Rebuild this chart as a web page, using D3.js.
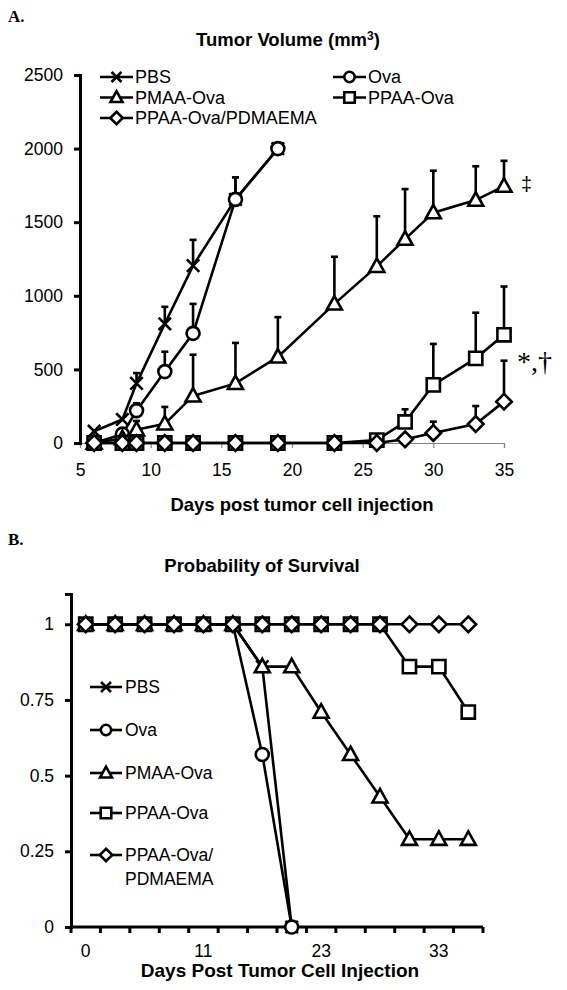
<!DOCTYPE html>
<html><head><meta charset="utf-8">
<script src="https://cdn.jsdelivr.net/npm/d3@7/dist/d3.min.js"></script>
<style>
body{margin:0;background:#fff;}
svg{display:block;font-family:"Liberation Sans",Arial,Helvetica,sans-serif;}
</style></head>
<body><svg id="c" width="567" height="990"></svg>
<script>
// ---------- Panel A data: tumor volume ----------
const days1 = [6, 8, 9, 11, 13, 16, 19, 23, 26, 28, 30, 33, 35];
const volTicksY = [0, 500, 1000, 1500, 2000, 2500];
const volTicksX = [5, 10, 15, 20, 25, 30, 35];
const seriesNames = ["PBS", "Ova", "PMAA-Ova", "PPAA-Ova", "PPAA-Ova/PDMAEMA"];
const seriesShapes = ["x", "circle", "triangle", "square", "diamond"];
const pbsVol  = [80, 160, 405, 810, 1205, 1655, 2000, null, null, null, null, null, null];
const pbsErr  = [0, 0, 70, 115, 175, 150, 0, null, null, null, null, null, null];
const ovaVol  = [0, 60, 220, 485, 745, 1655, 2000, null, null, null, null, null, null];
const ovaErr  = [0, 0, 50, 135, 200, 150, 0, null, null, null, null, null, null];
const pmaaVol = [0, 30, 90, 130, 320, 405, 585, 945, 1200, 1385, 1565, 1650, 1745];
const pmaaErr = [0, 0, 60, 115, 280, 275, 270, 320, 340, 340, 285, 230, 172];
const ppaaVol = [0, 0, 0, 0, 0, 0, 0, 0, 20, 143, 395, 575, 735];
const ppaaErr = [0, 0, 0, 0, 0, 0, 0, 0, 0, 86, 278, 310, 328];
const pdmVol  = [0, 0, 0, 0, 0, 0, 0, 0, 0, 25, 68, 129, 281];
const pdmErr  = [0, 0, 0, 0, 0, 0, 0, 0, 0, 0, 77, 122, 278];

// ---------- Panel B data: survival ----------
const days2 = [0, 6, 8, 9, 11, 13, 16, 19, 23, 26, 28, 30, 33, 35];
const days2Labels = [0, 11, 23, 33];
const survTicksY = [0, 0.25, 0.5, 0.75, 1];
const pbsSurv  = [1, 1, 1, 1, 1, 1, 0.86, 0, null, null, null, null, null, null];
const ovaSurv  = [1, 1, 1, 1, 1, 1, 0.57, 0, null, null, null, null, null, null];
const pmaaSurv = [1, 1, 1, 1, 1, 1, 0.86, 0.86, 0.71, 0.57, 0.43, 0.29, 0.29, 0.29];
const ppaaSurv = [1, 1, 1, 1, 1, 1, 1, 1, 1, 1, 1, 0.86, 0.86, 0.71];
const pdmSurv  = [1, 1, 1, 1, 1, 1, 1, 1, 1, 1, 1, 1, 1, 1];

const svg = d3.select("#c");
const SW = 2.6;

function shapePath(shape, s) {
  s = s || 1;
  switch (shape) {
    case "x": { const a = 6.2 * s; return `M${-a},${-a}L${a},${a}M${-a},${a}L${a},${-a}`; }
    case "circle": { const r = 6.5 * s; return `M${r},0A${r},${r} 0 1,1 ${-r},0A${r},${r} 0 1,1 ${r},0Z`; }
    case "triangle": { const h = 7.5 * s; return `M0,${-h * 1.05}L${h},${h * 0.75}L${-h},${h * 0.75}Z`; }
    case "square": { const a = 6.6 * s; return `M${-a},${-a}H${a}V${a}H${-a}Z`; }
    case "diamond": { const a = 7.8 * s; return `M0,${-a}L${a},0L0,${a}L${-a},0Z`; }
  }
}
function drawMarker(g, shape, x, y, s) {
  g.append("path").attr("d", shapePath(shape, s))
    .attr("transform", `translate(${x},${y})`)
    .attr("fill", shape === "x" ? "none" : "#fff")
    .attr("stroke", "#000").attr("stroke-width", SW);
}

// ---------- Panel A ----------
svg.append("text").attr("x", 8).attr("y", 22).text("A.")
  .attr("font-family", "'Liberation Serif','Times New Roman',serif").attr("font-weight", "bold").attr("font-size", 17);
const titleA = svg.append("text").attr("x", 288).attr("y", 46).attr("text-anchor", "middle")
  .attr("font-weight", "bold").attr("font-size", 18.5);
titleA.append("tspan").text("Tumor Volume (mm");
titleA.append("tspan").text("3").attr("font-size", 12).attr("dy", -6);
titleA.append("tspan").text(")").attr("dy", 6);

const x1 = d3.scaleLinear().domain([5, 35]).range([80, 504]);
const y1 = d3.scaleLinear().domain([0, 2500]).range([443, 75]);

// x axis (thin gray)
const gxa = svg.append("g").attr("transform", "translate(0,443)")
  .call(d3.axisBottom(x1).tickValues(volTicksX).tickFormat(d3.format("d")).tickSizeOuter(0).tickSize(5).tickPadding(16));
gxa.select(".domain").attr("stroke", "#888").attr("stroke-width", 1.2);
gxa.selectAll(".tick line").attr("stroke", "#888").attr("stroke-width", 1.2);
gxa.selectAll(".tick text").attr("font-size", 17.5).attr("fill", "#000").attr("font-family", "'Liberation Sans',Arial,sans-serif");
// y axis (thick)
const gya = svg.append("g").attr("transform", "translate(80,0)")
  .call(d3.axisLeft(y1).tickValues(volTicksY).tickFormat(d3.format("d")).tickSizeOuter(0).tickSize(6).tickPadding(11));
gya.select(".domain").attr("stroke", "#000").attr("stroke-width", 3);
gya.selectAll(".tick line").attr("stroke", "#000").attr("stroke-width", 3);
gya.selectAll(".tick text").attr("font-size", 17.5).attr("fill", "#000").attr("font-family", "'Liberation Sans',Arial,sans-serif");

svg.append("text").attr("x", 302).attr("y", 511).attr("text-anchor", "middle")
  .attr("font-weight", "bold").attr("font-size", 18.5).text("Days post tumor cell injection");

const volSeries = [
  {v: pbsVol, e: pbsErr}, {v: ovaVol, e: ovaErr}, {v: pmaaVol, e: pmaaErr},
  {v: ppaaVol, e: ppaaErr}, {v: pdmVol, e: pdmErr}
];
const lineA = d3.line().defined(d => d.v != null).x(d => x1(d.d)).y(d => y1(d.v));
const gA = svg.append("g");
volSeries.forEach((s, i) => {
  const pts = days1.map((d, j) => ({d, v: s.v[j], e: s.e[j]}));
  const g = gA.append("g");
  // error bars (upward only)
  pts.filter(p => p.v != null && p.e > 0).forEach(p => {
    const x = x1(p.d), yt = y1(p.v + p.e);
    g.append("line").attr("x1", x).attr("x2", x).attr("y1", y1(p.v)).attr("y2", yt)
      .attr("stroke", "#000").attr("stroke-width", SW);
    g.append("line").attr("x1", x - 3.5).attr("x2", x + 3.5).attr("y1", yt).attr("y2", yt)
      .attr("stroke", "#000").attr("stroke-width", SW);
  });
  g.append("path").datum(pts).attr("d", lineA).attr("fill", "none")
    .attr("stroke", "#000").attr("stroke-width", SW);
  pts.filter(p => p.v != null).forEach(p => drawMarker(g, seriesShapes[i], x1(p.d), y1(p.v)));
});

// significance marks
svg.append("text").attr("x", 521).attr("y", 191).attr("font-size", 20).text("‡");
svg.append("text").attr("x", 517).attr("y", 371).attr("font-size", 28)
  .attr("font-family", "'Liberation Serif','Times New Roman',serif").text("*,†");

// legend A
const legA = [
  {i: 0, x: 100, y: 77}, {i: 2, x: 100, y: 97.5}, {i: 4, x: 100, y: 118},
  {i: 1, x: 333, y: 77}, {i: 3, x: 333, y: 97.5}
];
legA.forEach(l => {
  const g = svg.append("g");
  g.append("line").attr("x1", l.x).attr("x2", l.x + 33).attr("y1", l.y).attr("y2", l.y)
    .attr("stroke", "#000").attr("stroke-width", SW);
  drawMarker(g, seriesShapes[l.i], l.x + 16.5, l.y, 0.8);
  g.append("text").attr("x", l.x + 35).attr("y", l.y + 6.3).attr("font-size", 18).text(seriesNames[l.i]);
});

// ---------- Panel B ----------
svg.append("text").attr("x", 8).attr("y", 545).text("B.")
  .attr("font-family", "'Liberation Serif','Times New Roman',serif").attr("font-weight", "bold").attr("font-size", 17);
svg.append("text").attr("x", 262).attr("y", 572).attr("text-anchor", "middle")
  .attr("font-weight", "bold").attr("font-size", 18.5).text("Probability of Survival");

const x2 = d3.scaleBand().domain(days2).range([71, 483]);
const cx2 = d => x2(d) + x2.bandwidth() / 2;
const y2 = d3.scaleLinear().domain([0, 1.1]).range([927, 594]);

const gyb = svg.append("g").attr("transform", "translate(71,0)")
  .call(d3.axisLeft(y2).tickValues(survTicksY).tickSizeOuter(0).tickSize(6).tickPadding(11)
    .tickFormat(d => String(d)));
gyb.select(".domain").attr("stroke", "#000").attr("stroke-width", 3);
gyb.selectAll(".tick line").attr("stroke", "#000").attr("stroke-width", 3);
gyb.selectAll(".tick text").attr("font-size", 17.5).attr("fill", "#000").attr("font-family", "'Liberation Sans',Arial,sans-serif");

// x axis B: category axis with ticks between categories
const gxb = svg.append("g");
gxb.append("line").attr("x1", 71).attr("x2", 483).attr("y1", 927).attr("y2", 927)
  .attr("stroke", "#000").attr("stroke-width", 3);
const bounds = days2.map(d => x2(d)).concat([x2.range()[1]]);
bounds.forEach(b => gxb.append("line").attr("x1", b).attr("x2", b).attr("y1", 927).attr("y2", 933)
  .attr("stroke", "#000").attr("stroke-width", 3));
days2Labels.forEach(d => gxb.append("text").attr("x", cx2(d)).attr("y", 957)
  .attr("text-anchor", "middle").attr("font-size", 17.5).text(d));

svg.append("text").attr("x", 280).attr("y", 977).attr("text-anchor", "middle")
  .attr("font-weight", "bold").attr("font-size", 19).text("Days Post Tumor Cell Injection");

const survSeries = [pbsSurv, ovaSurv, pmaaSurv, ppaaSurv, pdmSurv];
const lineB = d3.line().defined(d => d.v != null).x(d => cx2(d.d)).y(d => y2(d.v));
const gB = svg.append("g");
survSeries.forEach((s, i) => {
  const pts = days2.map((d, j) => ({d, v: s[j]}));
  const g = gB.append("g");
  g.append("path").datum(pts).attr("d", lineB).attr("fill", "none")
    .attr("stroke", "#000").attr("stroke-width", SW);
  pts.filter(p => p.v != null).forEach(p => drawMarker(g, seriesShapes[i], cx2(p.d), y2(p.v)));
});

// legend B
const legB = [
  {i: 0, y: 687}, {i: 1, y: 730}, {i: 2, y: 773}, {i: 3, y: 813}, {i: 4, y: 855}
];
legB.forEach(l => {
  const g = svg.append("g");
  g.append("line").attr("x1", 90).attr("x2", 122).attr("y1", l.y).attr("y2", l.y)
    .attr("stroke", "#000").attr("stroke-width", SW);
  drawMarker(g, seriesShapes[l.i], 106, l.y, 0.8);
  const name = l.i === 4 ? ["PPAA-Ova/", "PDMAEMA"] : [seriesNames[l.i]];
  name.forEach((t, k) => g.append("text").attr("x", 125).attr("y", l.y + 6.3 + k * 23.5)
    .attr("font-size", 17.5).text(t));
});
</script></body></html>
